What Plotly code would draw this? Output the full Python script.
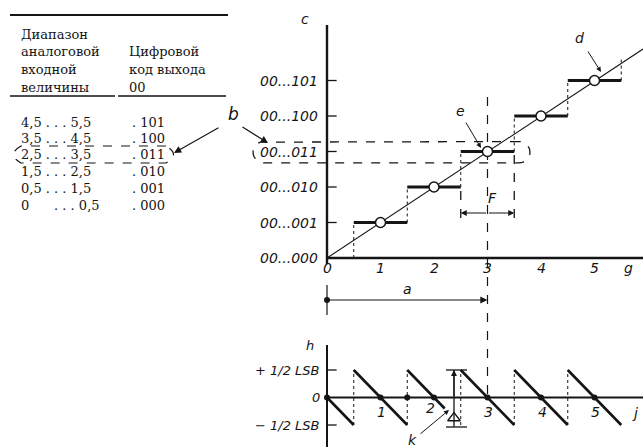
import plotly.graph_objects as go
import numpy as np

# ---------------- data ----------------
codes = [0, 1, 2, 3, 4, 5]
code_labels = ["00...000", "00...001", "00...010", "00...011", "00...100", "00...101"]
x_ticks = [0, 1, 2, 3, 4, 5]
range_lo = [0.0, 0.5, 1.5, 2.5, 3.5, 4.5]
range_hi = [0.5, 1.5, 2.5, 3.5, 4.5, 5.5]
saw_hi = [0.5, 1.5, 2.2, 3.5, 4.5, 5.5]
zero_dots = [0, 1, 1.5, 2, 3, 4, 5]
h_levels = [0.5, 0, -0.5]
h_labels = ["+ 1/2 LSB", "0", "− 1/2 LSB"]
table_head_left = ["Диапазон", "аналоговой", "входной", "величины"]
table_head_right = ["Цифровой", "код выхода", "00"]
table_ranges = ["4,5 . . . 5,5", "3,5 . . . 4,5", "2,5 . . . 3,5",
                "1,5 . . . 2,5", "0,5 . . . 1,5", "0      . . . 0,5"]
table_codes = [". 101", ". 100", ". 011", ". 010", ". 001", ". 000"]

# ---------------- layout constants ----------------
W, H = 643, 447
X0, XS = 327, 53.5     # px of x=0, px per unit
Y0, YS = 258, 35.5     # px of code 0, px per code
H0, HS = 397.5, 55     # px of h=0, px per LSB
INK = "#151515"
LBL = dict(family="DejaVu Sans", size=14, color=INK, style="italic")
SERIF = dict(family="DejaVu Serif", size=13, color=INK)


def xd(px):
    return (px - X0) / XS


def yd(py):
    return (Y0 - py) / YS


def hd(py):
    return (H0 - py) / HS


def segs(pairs):
    xs, ys = [], []
    for (xa, ya, xb, yb) in pairs:
        xs += [xa, xb, None]
        ys += [ya, yb, None]
    return xs, ys


fig = go.Figure()


def line(pairs, width=1.2, dash="solid", yaxis="y"):
    xs, ys = segs(pairs)
    fig.add_trace(go.Scatter(x=xs, y=ys, mode="lines", yaxis=yaxis,
                             line=dict(color=INK, width=width, dash=dash),
                             hoverinfo="skip", showlegend=False))


# ---------- upper chart: transfer characteristic ----------
line([(0, yd(264), 0, yd(25)), (0, 0, xd(643), 0)], width=2.4)
line([(0, c, 0.18, c) for c in codes[1:]], width=1.3)
line([(0, 0, xd(643), yd(49))], width=1.1)
line([(range_lo[i], codes[i], range_hi[i], codes[i]) for i in range(1, 6)], width=3)
line([(range_hi[i], codes[i], range_hi[i], codes[i + 1]) for i in range(5)]
     + [(range_hi[5], codes[5], range_hi[5], 5.6)], width=1, dash="dot")
line([(range_lo[3], yd(218), range_lo[3], codes[2]),
      (range_hi[3], yd(218), range_hi[3], codes[3])], width=1.3, dash="dash")
line([(codes[3], yd(97), codes[3], yd(398))], width=1.2, dash="dash")

# dashed rounded box around code 011
cy, ry = codes[3] - 0.02, 0.30
cl, cr, rx = xd(264), xd(519), 11 / XS
t1 = np.linspace(np.pi / 2, 3 * np.pi / 2, 20)
t2 = np.linspace(-np.pi / 2, np.pi / 2, 20)
bx = [cr, cl] + list(cl + rx * np.cos(t1)) + [cl, cr] + list(cr + rx * np.cos(t2))
by = [cy + ry, cy + ry] + list(cy + ry * np.sin(t1)) + [cy - ry, cy - ry] + list(cy + ry * np.sin(t2))
fig.add_trace(go.Scatter(x=bx, y=by, mode="lines", line=dict(color=INK, width=1.3, dash="dash"),
                         hoverinfo="skip", showlegend=False))

fig.add_trace(go.Scatter(x=codes[1:], y=codes[1:], mode="markers",
                         marker=dict(symbol="circle", size=10, color="white",
                                     line=dict(color=INK, width=1.5)),
                         hoverinfo="skip", showlegend=False))

# a-arrow
ya = yd(300)
line([(0, yd(285), 0, yd(315))], width=1.2)
fig.add_trace(go.Scatter(x=[0], y=[ya], mode="markers", marker=dict(size=6, color=INK),
                         hoverinfo="skip", showlegend=False))

# ---------- lower chart: quantisation error ----------
line([(0, hd(345), 0, hd(447)), (0, 0, xd(643), 0)], width=2, yaxis="y2")
line([(0, v, 0.18, v) for v in (h_levels[0], h_levels[2])], width=1.3, yaxis="y2")
line([(range_lo[i], codes[i] - range_lo[i], saw_hi[i], codes[i] - saw_hi[i])
      for i in range(6)], width=2.6, yaxis="y2")
line([(range_lo[i], h_levels[2], range_lo[i], h_levels[0]) for i in range(1, 6)],
     width=1, dash="dot", yaxis="y2")
fig.add_trace(go.Scatter(x=zero_dots, y=[0] * len(zero_dots), mode="markers", yaxis="y2",
                         marker=dict(size=6, color=INK), hoverinfo="skip", showlegend=False))
xk = xd(454)
line([(xk, h_levels[2] - 0.03, xk, h_levels[0]),
      (xd(446), h_levels[0], xd(467), h_levels[0]),
      (xd(446), hd(427), xd(467), hd(427))], width=1.3, yaxis="y2")
fig.add_trace(go.Scatter(x=[xk], y=[hd(418)], mode="markers", yaxis="y2",
                         marker=dict(symbol="triangle-up-open", size=11, color=INK,
                                     line=dict(width=1.3)),
                         hoverinfo="skip", showlegend=False))

# ---------- annotations ----------
ann = []
for c, lab in zip(codes, code_labels):
    ann.append(dict(x=xd(320), y=c, xref="x", yref="y", text=lab, showarrow=False,
                    xanchor="right", yanchor="middle", font=LBL))
for t in x_ticks:
    ann.append(dict(x=t, y=yd(268), xref="x", yref="y", text=str(t), showarrow=False,
                    xanchor="center", yanchor="middle", font=LBL))
ann.append(dict(x=xd(628), y=yd(268), xref="x", yref="y", text="g", showarrow=False, font=LBL))
ann.append(dict(x=xd(305), y=yd(19), xref="x", yref="y", text="c", showarrow=False, font=LBL))
ann.append(dict(x=xd(579), y=yd(38), xref="x", yref="y", text="d", showarrow=False, font=LBL))
ann.append(dict(x=xd(601), y=yd(72), ax=xd(587), ay=yd(50), xref="x", yref="y",
                axref="x", ayref="y", text="", showarrow=True, arrowhead=2,
                arrowsize=1, arrowwidth=1, arrowcolor=INK))
ann.append(dict(x=xd(460), y=yd(111), xref="x", yref="y", text="e", showarrow=False, font=LBL))
ann.append(dict(x=xd(481), y=yd(148), ax=xd(465), ay=yd(121), xref="x", yref="y",
                axref="x", ayref="y", text="", showarrow=True, arrowhead=2,
                arrowsize=1, arrowwidth=1, arrowcolor=INK))
yf = yd(213)
for endx in (range_lo[3], range_hi[3]):
    ann.append(dict(x=endx, y=yf, ax=codes[3], ay=yf, xref="x", yref="y",
                    axref="x", ayref="y", text="", showarrow=True, arrowhead=2,
                    arrowsize=1, arrowwidth=1.2, arrowcolor=INK))
ann.append(dict(x=xd(492), y=yd(198), xref="x", yref="y", text="F", showarrow=False, font=LBL))
ann.append(dict(x=codes[3], y=ya, ax=0, ay=ya, xref="x", yref="y", axref="x", ayref="y",
                text="", showarrow=True, arrowhead=2, arrowsize=1.2, arrowwidth=1.2,
                arrowcolor=INK))
ann.append(dict(x=xd(407), y=yd(289), xref="x", yref="y", text="a", showarrow=False, font=LBL))

# lower chart labels
for v, lab in zip(h_levels, h_labels):
    ann.append(dict(x=xd(322), y=v, xref="x", yref="y2", text=lab, showarrow=False,
                    xanchor="right", yanchor="middle", font=dict(LBL, size=13)))
ann.append(dict(x=xd(310), y=hd(345), xref="x", yref="y2", text="h", showarrow=False,
                font=dict(LBL, size=13)))
for t in x_ticks[1:]:
    ann.append(dict(x=t + 0.02, y=hd(412), xref="x", yref="y2", text=str(t), showarrow=False,
                    xanchor="center", yanchor="middle", xshift=-5 if t == 2 else 0,
                    yshift=4 if t == 2 else 0, font=LBL))
ann.append(dict(x=xd(635), y=hd(413), xref="x", yref="y2", text="j", showarrow=False, font=LBL))
ann.append(dict(x=xk, y=h_levels[0], ax=xk, ay=0, xref="x", yref="y2", axref="x", ayref="y2",
                text="", showarrow=True, arrowhead=2, arrowsize=1, arrowwidth=1.2,
                arrowcolor=INK))
ann.append(dict(x=xd(412), y=hd(440), xref="x", yref="y2", text="k", showarrow=False, font=LBL))
ann.append(dict(x=xd(449), y=hd(410), ax=xd(419), ay=hd(435), xref="x", yref="y2",
                axref="x", ayref="y2", text="", showarrow=True, arrowhead=2,
                arrowsize=1, arrowwidth=1, arrowcolor=INK))

# table (paper coordinates)
def pp(px, py):
    return px / W, 1 - py / H


def ptext(px, py, s, font=SERIF, anchor="left"):
    x, y = pp(px, py)
    ann.append(dict(x=x, y=y, xref="paper", yref="paper", text=s, showarrow=False,
                    xanchor=anchor, yanchor="middle", font=font))


for s, py in zip(table_head_left, [34, 52, 69, 87]):
    ptext(19, py, s)
for s, py in zip(table_head_right, [52, 69, 87]):
    ptext(127, py, s)
row_y = [122, 138, 154, 171, 188, 205]
for s, c, py in zip(table_ranges, table_codes, row_y):
    ptext(19, py, s)
    ptext(130, py, c)

ptext(226, 114, "b", font=dict(LBL, size=17))
for hx, hy, tx, ty in [(174, 153, 220, 127), (268, 143, 241, 126)]:
    x, y = pp(hx, hy)
    ann.append(dict(x=x, y=y, xref="paper", yref="paper", ax=tx - hx, ay=ty - hy,
                    text="", showarrow=True, arrowhead=2, arrowsize=1.2,
                    arrowwidth=1.2, arrowcolor=INK))

shapes = []


def pline(x1, y1, x2, y2, w=1.5, dash="solid"):
    a, b = pp(x1, y1)
    c, d = pp(x2, y2)
    shapes.append(dict(type="line", xref="paper", yref="paper", x0=a, y0=b, x1=c, y1=d,
                       line=dict(color=INK, width=w, dash=dash)))


pline(10, 15, 228, 15, w=2)
pline(10, 96, 115, 96, w=1.6)
pline(118, 96, 226, 96, w=1.6)


def P(px, py):
    x, y = pp(px, py)
    return f"{x:.5f},{y:.5f}"


box_path = (f"M{P(166,146)} L{P(21,146)} Q{P(6,154.5)} {P(21,163)} "
            f"L{P(166,163)} Q{P(181,154.5)} {P(166,146)}")
shapes.append(dict(type="path", xref="paper", yref="paper", path=box_path,
                   line=dict(color=INK, width=1.2, dash="dash")))

fig.update_layout(
    width=W, height=H, autosize=False,
    margin=dict(l=0, r=0, t=0, b=0),
    paper_bgcolor="white", plot_bgcolor="white",
    xaxis=dict(range=[xd(0), xd(W)], domain=[0, 1], visible=False, fixedrange=True),
    yaxis=dict(range=[yd(H), yd(0)], domain=[0, 1], visible=False, fixedrange=True),
    yaxis2=dict(range=[hd(H), hd(0)], overlaying="y", visible=False, fixedrange=True),
    annotations=ann, shapes=shapes, showlegend=False,
)

fig.write_html("out.html", config={"displayModeBar": False},
               post_script="document.body.style.margin='0';document.body.style.overflow='hidden';")
